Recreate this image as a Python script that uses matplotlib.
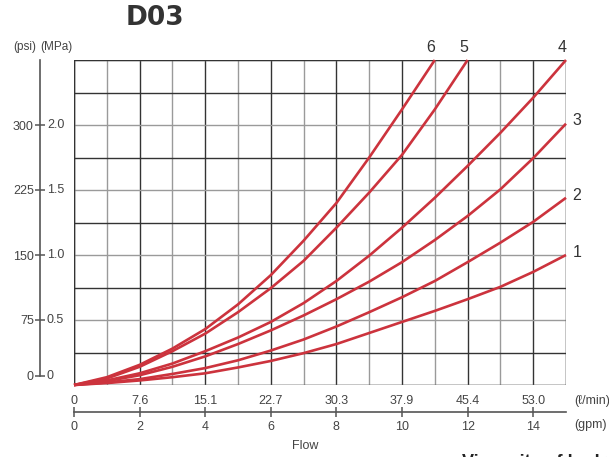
import matplotlib
matplotlib.use("Agg")
import matplotlib.pyplot as plt

plt.rcParams["font.family"] = ["Liberation Sans", "DejaVu Sans"]

# === Data (pressure drop in MPa vs flow in gpm) ===
gpm = list(range(16))
curve_1 = [0, 0.015, 0.035, 0.06, 0.09, 0.135, 0.185, 0.245, 0.315, 0.40, 0.485, 0.57, 0.66, 0.755, 0.87, 1.0]
curve_2 = [0, 0.02, 0.045, 0.085, 0.13, 0.19, 0.265, 0.35, 0.45, 0.56, 0.675, 0.80, 0.945, 1.095, 1.255, 1.44]
curve_3 = [0, 0.03, 0.075, 0.14, 0.22, 0.315, 0.42, 0.535, 0.66, 0.795, 0.945, 1.115, 1.30, 1.505, 1.745, 2.01]
curve_4 = [0, 0.035, 0.09, 0.165, 0.26, 0.365, 0.485, 0.63, 0.80, 0.995, 1.21, 1.44, 1.685, 1.94, 2.21, 2.5]
curve_5 = [0, 0.05, 0.14, 0.26, 0.395, 0.56, 0.745, 0.955, 1.21, 1.48, 1.77, 2.12, 2.5]
curve_6 = [0, 0.06, 0.155, 0.28, 0.43, 0.62, 0.845, 1.11, 1.40, 1.75, 2.12, 2.5]
curves = [("1", curve_1), ("2", curve_2), ("3", curve_3),
          ("4", curve_4), ("5", curve_5), ("6", curve_6)]

gpm_ticks = [0, 2, 4, 6, 8, 10, 12, 14]
lpm_labels = ["0", "7.6", "15.1", "22.7", "30.3", "37.9", "45.4", "53.0"]
mpa_ticks = [0, 0.5, 1.0, 1.5, 2.0]
mpa_labels = ["0", "0.5", "1.0", "1.5", "2.0"]
psi_labels = ["0", "75", "150", "225", "300"]

RED = "#cc333d"
DARK = "#333333"
GRAY = "#9a9a9a"
TXT = "#444444"

# === Figure ===
fig = plt.figure(figsize=(6.09, 4.57), dpi=100)
ax = fig.add_axes([74 / 609, 1 - 385 / 457, 492 / 609, 325 / 457])
ax.set_xlim(0, 15)
ax.set_ylim(0, 2.5)

# grid: odd gpm / half-MPa lines are lighter
for g in range(16):
    ax.axvline(g, color=DARK if g % 2 == 0 else GRAY, lw=1.0, zorder=1)
for i in range(11):
    ax.axhline(i * 0.25, color=GRAY if i % 2 == 0 else DARK, lw=1.0, zorder=1)
ax.axhline(0, color=DARK, lw=1.0, zorder=1)
ax.axhline(2.5, color=DARK, lw=1.0, zorder=1)
ax.axvline(0, color=DARK, lw=1.0, zorder=1)
ax.axvline(15, color=DARK, lw=1.0, zorder=1)

for name, vals in curves:
    ax.plot(gpm[:len(vals)], vals, color=RED, lw=1.9, zorder=3, clip_on=False,
            solid_capstyle="butt", solid_joinstyle="round")
    x_end, y_end = len(vals) - 1, vals[-1]
    if y_end >= 2.5:
        ax.annotate(name, (x_end, y_end), xytext=(-3, 9), textcoords="offset points",
                    ha="center", va="center", fontsize=11.5, color=DARK)
    else:
        ax.annotate(name, (x_end, y_end), xytext=(8, 2), textcoords="offset points",
                    ha="center", va="center", fontsize=11.5, color=DARK)

# spines
for s in ["top", "right"]:
    ax.spines[s].set_visible(False)
ax.spines["left"].set_position(("outward", 24.5))
ax.spines["bottom"].set_position(("outward", 19.5))
for s in ["left", "bottom"]:
    ax.spines[s].set_color("#555555")
    ax.spines[s].set_linewidth(1.2)

# left axis: zero tick sits a little above the plot bottom in the original
zero_shift = 0.07
left_ticks = [zero_shift] + mpa_ticks[1:]
ax.spines["left"].set_bounds(zero_shift, 2.5)
ax.set_yticks(left_ticks)
ax.set_yticklabels(psi_labels)
ax.tick_params(axis="y", direction="inout", length=7, width=1.1, color="#555555",
               labelsize=9, labelcolor=TXT, pad=1)
for t, lab in zip(left_ticks, mpa_labels):
    ax.text(-0.055, t, lab, transform=ax.get_yaxis_transform(), ha="left", va="center",
            fontsize=9, color=TXT)

# bottom axis
ax.set_xticks(gpm_ticks)
ax.set_xticklabels([str(g) for g in gpm_ticks])
ax.tick_params(axis="x", direction="inout", length=7, width=1.1, color="#555555",
               labelsize=9, labelcolor=TXT, pad=3)
for g, lab in zip(gpm_ticks, lpm_labels):
    ax.text(g, -0.05, lab, transform=ax.get_xaxis_transform(), ha="center", va="center",
            fontsize=9, color=TXT)
ax.text(15.25, -0.05, "(ℓ/min)", transform=ax.get_xaxis_transform(), ha="left",
        va="center", fontsize=9, color=TXT)
ax.text(15.25, -0.123, "(gpm)", transform=ax.get_xaxis_transform(), ha="left",
        va="center", fontsize=9, color=TXT)

# titles / labels
fig.text(155 / 609, 1 - 18 / 457, "D03", ha="center", va="center", fontsize=19,
         fontweight="bold", color="#333333", family="DejaVu Sans")
fig.text(25 / 609, 1 - 47 / 457, "(psi)", ha="center", va="center", fontsize=8.5, color=TXT)
fig.text(56 / 609, 1 - 47 / 457, "(MPa)", ha="center", va="center", fontsize=8.5, color=TXT)
fig.text(305 / 609, 1 - 446 / 457, "Flow", ha="center", va="center", fontsize=9, color=TXT)
fig.text(462 / 609, 1 - 454 / 457, "Viscosity of hydraulic oil", ha="left", va="top",
         fontsize=13, fontweight="bold", color="#222222")

fig.savefig("out.png", dpi=100)
